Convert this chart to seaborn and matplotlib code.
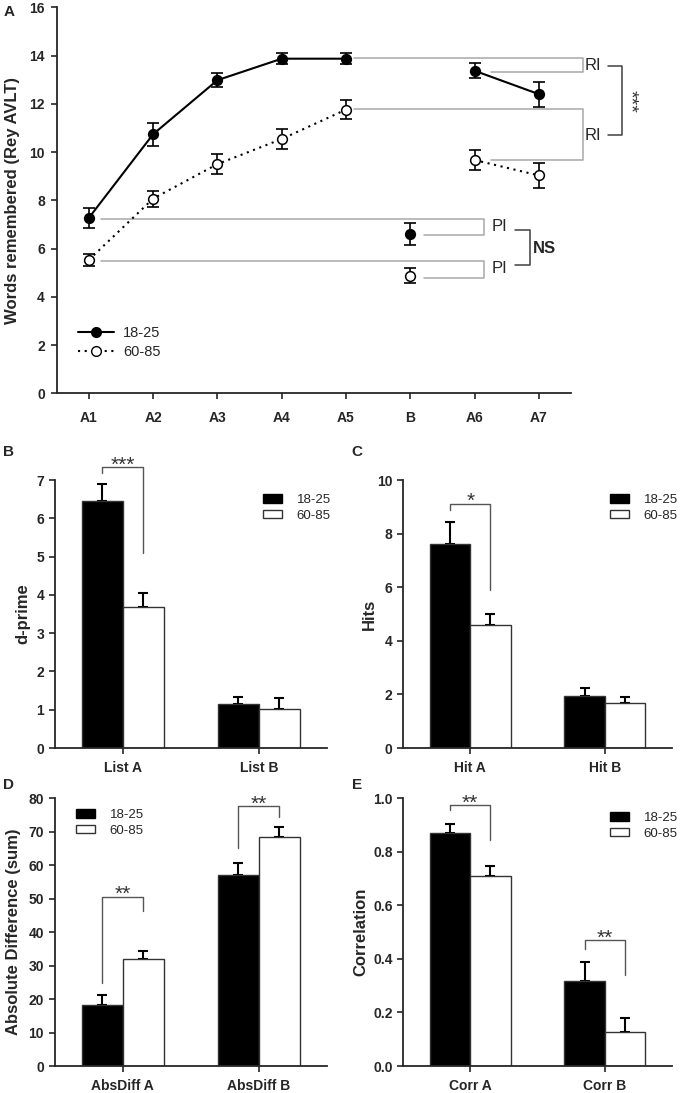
import numpy as np
import pandas as pd
import matplotlib
matplotlib.use('Agg')
import matplotlib.pyplot as plt
from matplotlib.lines import Line2D
from matplotlib.patches import Patch
import seaborn as sns

sns.set_style('ticks')
plt.rcParams['font.family'] = ['Liberation Sans', 'DejaVu Sans']
plt.rcParams['axes.linewidth'] = 1.3
plt.rcParams['xtick.major.width'] = 1.2
plt.rcParams['ytick.major.width'] = 1.2

groups = ['18-25', '60-85']

# panel A: Rey AVLT trials
trials = ['A1', 'A2', 'A3', 'A4', 'A5', 'B', 'A6', 'A7']
young_words = [7.27, 10.74, 12.98, 13.87, 13.87, 6.61, 13.37, 12.4]
young_words_err = [0.41, 0.48, 0.3, 0.22, 0.22, 0.46, 0.31, 0.52]
old_words = [5.53, 8.07, 9.5, 10.54, 11.76, 4.87, 9.67, 9.03]
old_words_err = [0.24, 0.33, 0.42, 0.41, 0.4, 0.31, 0.41, 0.53]

# panel B: d-prime
dprime_cats = ['List A', 'List B']
dprime_young = [6.45, 1.15]
dprime_young_err = [0.44, 0.18]
dprime_old = [3.69, 1.02]
dprime_old_err = [0.35, 0.29]

# panel C: hits
hits_cats = ['Hit A', 'Hit B']
hits_young = [7.6, 1.94]
hits_young_err = [0.84, 0.31]
hits_old = [4.59, 1.67]
hits_old_err = [0.41, 0.22]

# panel D: absolute difference
absdiff_cats = ['AbsDiff A', 'AbsDiff B']
absdiff_young = [18.2, 57.1]
absdiff_young_err = [3.0, 3.5]
absdiff_old = [31.9, 68.5]
absdiff_old_err = [2.5, 2.8]

# panel E: correlation
corr_cats = ['Corr A', 'Corr B']
corr_young = [0.871, 0.319]
corr_young_err = [0.032, 0.068]
corr_old = [0.71, 0.126]
corr_old_err = [0.037, 0.054]

W, H = 680, 1093
fig = plt.figure(figsize=(W / 100, H / 100), dpi=100)


def add_ax(l, t, r, b):
    return fig.add_axes([l / W, 1 - b / H, (r - l) / W, (b - t) / H])


def ylabel_at(ax, text, right_px, l, r):
    ax.set_ylabel(text, fontsize=12, fontweight='bold')
    ax.yaxis.set_label_coords((right_px - l) / (r - l), 0.5)


# ---------------- panel A ----------------
la, ta, ra, ba = 56.7, 7.3, 571, 393.3
ax = add_ax(la, ta, ra, ba)
x = np.arange(len(trials))
segs = [[0, 1, 2, 3, 4], [5], [6, 7]]
dotted = (0, (1, 2.2))
for mean, err, ls, fc in [(young_words, young_words_err, '-', 'black'),
                          (old_words, old_words_err, dotted, 'white')]:
    mean = np.array(mean)
    ax.errorbar(x, mean, yerr=err, fmt='none', ecolor='black', elinewidth=1.2,
                capsize=4, capthick=1.2, zorder=2)
    for s in segs:
        ax.plot(x[s], mean[s], ls=ls, color='black', lw=1.5, marker='o', ms=7,
                mfc=fc, mec='black', mew=1.1, zorder=3)

ax.set_xlim(-0.5, 7.5)
ax.set_ylim(0, 16)
ax.set_xticks(x)
ax.set_xticklabels(trials)
ax.set_yticks(range(0, 17, 2))
ax.tick_params(axis='x', length=4.5, pad=8, labelsize=10)
ax.tick_params(axis='y', length=4.5, pad=4, labelsize=10)
for lab in ax.get_xticklabels() + ax.get_yticklabels():
    lab.set_fontweight('bold')
sns.despine(ax=ax)
ylabel_at(ax, 'Words remembered (Rey AVLT)', 20, la, ra)

light = '#a8a8a8'
dark = '#404040'
kw = dict(color=light, lw=1.1, clip_on=False, zorder=1)
# retroactive interference brackets
ax.plot([4.13, 7.68, 7.68, 6.26], [13.89, 13.89, 13.33, 13.33], **kw)
ax.plot([4.13, 7.68, 7.68, 6.26], [11.77, 11.77, 9.67, 9.67], **kw)
ax.text(7.71, 13.57, 'RI', fontsize=12, va='center', ha='left')
ax.text(7.71, 10.7, 'RI', fontsize=12, va='center', ha='left')
ax.plot([8.07, 8.29, 8.29, 8.07], [13.57, 13.57, 10.7, 10.7], color=dark, lw=1.1, clip_on=False)
ax.text(8.42, 12.1, '***', fontsize=14, rotation=270, va='center', ha='center', color='#333333')
# proactive interference brackets
ax.plot([0.19, 6.15, 6.15, 5.21], [7.21, 7.21, 6.56, 6.56], **kw)
ax.plot([0.19, 6.15, 6.15, 5.21], [5.5, 5.5, 4.79, 4.79], **kw)
ax.text(6.27, 6.91, 'PI', fontsize=12, va='center', ha='left')
ax.text(6.27, 5.18, 'PI', fontsize=12, va='center', ha='left')
ax.plot([6.63, 6.86, 6.86, 6.63], [6.77, 6.77, 5.32, 5.32], color=dark, lw=1.1, clip_on=False)
ax.text(6.9, 6.01, 'NS', fontsize=12, fontweight='bold', va='center', ha='left')

handles = [Line2D([], [], color='black', ls='-', lw=1.5, marker='o', ms=7, mfc='black', mec='black'),
           Line2D([], [], color='black', ls=dotted, lw=1.5, marker='o', ms=7, mfc='white', mec='black')]
ax.legend(handles, groups, loc='upper left', bbox_to_anchor=(78 / W, 1 - 326 / H),
          bbox_transform=fig.transFigure, frameon=False, fontsize=10.5, handlelength=2.5,
          handletextpad=0.6, labelspacing=0.35, borderpad=0, borderaxespad=0)


# ---------------- bar panels ----------------
def bar_panel(box, cats, young, young_e, old, old_e, ymax, ticks, ylabel, label_right,
              legend_xy, brackets, fmt='{:g}'):
    l, t, r, b = box
    ax = add_ax(l, t, r, b)
    df = pd.DataFrame({'cat': cats * 2,
                       'group': [groups[0]] * len(cats) + [groups[1]] * len(cats),
                       'val': young + old})
    sns.barplot(data=df, x='cat', y='val', hue='group', hue_order=groups,
                palette=['black', 'white'], width=0.6, gap=0, edgecolor='#333333',
                linewidth=1, errorbar=None, legend=False, ax=ax, zorder=2)
    for cont, errs in zip(ax.containers, [young_e, old_e]):
        xs = [p.get_x() + p.get_width() / 2 for p in cont]
        hs = [p.get_height() for p in cont]
        ax.errorbar(xs, hs, yerr=[np.zeros(len(errs)), errs], fmt='none', ecolor='black',
                    elinewidth=1.5, capsize=3.5, capthick=1.5, zorder=1)
    ax.set_xlim(-0.5, 1.5)
    ax.set_ylim(0, ymax)
    ax.set_yticks(ticks)
    ax.set_yticklabels([fmt.format(v) for v in ticks])
    ax.set_xlabel('')
    ax.tick_params(axis='x', length=4, pad=5, labelsize=10)
    ax.tick_params(axis='y', length=4, pad=3.5, labelsize=10)
    for lab in ax.get_xticklabels() + ax.get_yticklabels():
        lab.set_fontweight('bold')
    sns.despine(ax=ax)
    ylabel_at(ax, ylabel, label_right, l, r)
    for ci, top, lb, rb, txt in brackets:
        x0, x1 = ci - 0.15, ci + 0.15
        ax.plot([x0, x0, x1, x1], [lb, top, top, rb], color='#555555', lw=1, clip_on=False)
        ax.annotate(txt, xy=((x0 + x1) / 2, top), xytext=(0, -2.5), textcoords='offset points',
                    ha='center', va='baseline', fontsize=15, color='#333333',
                    annotation_clip=False)
    hl = [Patch(facecolor='black', edgecolor='black'),
          Patch(facecolor='white', edgecolor='#333333')]
    ax.legend(hl, groups, loc='upper left', bbox_to_anchor=(legend_xy[0] / W, 1 - legend_xy[1] / H),
              bbox_transform=fig.transFigure, frameon=False, fontsize=9.5, handlelength=1.45,
              handleheight=0.6, handletextpad=1.1, labelspacing=0.3, borderpad=0, borderaxespad=0)
    return ax


bar_panel((54.5, 480, 327, 748), dprime_cats, dprime_young, dprime_young_err, dprime_old,
          dprime_old_err, 7, range(0, 8), 'd-prime', 30.5, (263, 494),
          [(0, 7.34, 7.18, 5.09, '***')])
bar_panel((403, 480, 672, 748), hits_cats, hits_young, hits_young_err, hits_old,
          hits_old_err, 10, range(0, 11, 2), 'Hits', 377, (610, 494),
          [(0, 9.12, 8.88, 5.9, '*')])
bar_panel((54.5, 798.3, 327, 1066), absdiff_cats, absdiff_young, absdiff_young_err, absdiff_old,
          absdiff_old_err, 80, range(0, 81, 10), 'Absolute Difference (sum)', 21, (76, 809),
          [(0, 50.6, 24.9, 46.3, '**'), (1, 77.7, 65.1, 74.3, '**')])
bar_panel((403, 798.3, 672, 1066), corr_cats, corr_young, corr_young_err, corr_old,
          corr_old_err, 1.0, np.linspace(0, 1, 6), 'Correlation', 368, (610, 812),
          [(0, 0.975, 0.956, 0.844, '**'), (1, 0.471, 0.437, 0.34, '**')], fmt='{:.1f}')

for letter, px, py in [('A', 9.6, 11.7), ('B', 8.7, 451.7), ('C', 357, 451.7),
                       ('D', 8.7, 785), ('E', 357, 785)]:
    fig.text(px / W, 1 - py / H, letter, fontsize=11, fontweight='bold', ha='center', va='center')

fig.savefig('out.png', dpi=100)
